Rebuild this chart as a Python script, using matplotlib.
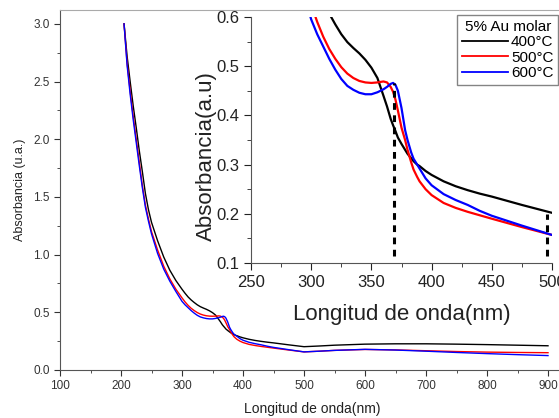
import numpy as np
import matplotlib
matplotlib.use('Agg')
import matplotlib.pyplot as plt
from matplotlib.ticker import MultipleLocator

plt.rcParams['font.family'] = ['Liberation Sans', 'DejaVu Sans']

# Wavelength (nm) and absorbance
wl = [205, 210, 215, 220, 225, 230, 235, 240, 245, 250,
      260, 270, 280, 290, 300,
      305, 310, 315, 320, 325, 330, 335, 340, 345, 350, 355, 360,
      363, 366, 368, 370, 372, 375, 378, 380, 383, 385, 388, 390,
      395, 400,
      410, 420, 430, 440, 450,
      475, 500, 525, 550,
      600, 650, 700, 750, 800, 850, 900]

abs_400 = [3.0, 2.72, 2.5, 2.29, 2.1, 1.9, 1.72, 1.53, 1.39, 1.28,
           1.12, 0.98, 0.865, 0.775, 0.70,
           0.665, 0.633, 0.607, 0.585, 0.565, 0.549, 0.537, 0.526, 0.513, 0.497, 0.476, 0.44,
           0.418, 0.393, 0.38, 0.368, 0.355, 0.342, 0.33, 0.322, 0.313, 0.307, 0.30, 0.297,
           0.287, 0.279,
           0.266, 0.256, 0.248, 0.241, 0.235,
           0.218, 0.202, 0.208, 0.215,
           0.224, 0.227, 0.227, 0.224, 0.22, 0.215, 0.21]

abs_500 = [3.0, 2.66, 2.42, 2.2, 2.0, 1.8, 1.6, 1.43, 1.31, 1.2,
           1.04, 0.9, 0.79, 0.70, 0.625,
           0.59, 0.56, 0.535, 0.515, 0.498, 0.485, 0.476, 0.47, 0.467, 0.466, 0.467, 0.469,
           0.467, 0.458, 0.448, 0.432, 0.41, 0.375, 0.35, 0.33, 0.305, 0.29, 0.275, 0.266,
           0.25, 0.238,
           0.222, 0.212, 0.204, 0.197, 0.19,
           0.173, 0.157, 0.163, 0.17,
           0.178, 0.174, 0.167, 0.16, 0.155, 0.152, 0.15]

abs_600 = [3.0, 2.64, 2.39, 2.17, 1.97, 1.77, 1.58, 1.41, 1.29, 1.18,
           1.01, 0.875, 0.77, 0.68, 0.595,
           0.565, 0.54, 0.515, 0.493, 0.474, 0.46, 0.452, 0.446, 0.443, 0.443, 0.447, 0.453,
           0.458, 0.464, 0.466, 0.462, 0.45, 0.415, 0.37, 0.35, 0.325, 0.312, 0.30, 0.292,
           0.272, 0.258,
           0.24, 0.228, 0.218, 0.206, 0.196,
           0.176, 0.157, 0.163, 0.17,
           0.179, 0.173, 0.163, 0.152, 0.142, 0.133, 0.125]

labels = ['400°C', '500°C', '600°C']
colors = ['black', 'red', 'blue']
series = [abs_400, abs_500, abs_600]

# dashed marker lines in the inset
vline_x = [369, 496]
vline_top = [0.465, 0.2]
vline_bottom = [0.115, 0.115]

fig = plt.figure(figsize=(5.59, 4.18), dpi=100)

# main axes
ax = fig.add_axes([60 / 559, 48 / 418, 505 / 559, 360 / 418])
for y, c in zip(series, colors):
    ax.plot(wl, y, color=c, lw=1.0)
ax.set_xlim(100, 100 + 505 / 0.61)
ax.set_ylim(0, 3.12)
ax.xaxis.set_major_locator(MultipleLocator(100))
ax.xaxis.set_minor_locator(MultipleLocator(50))
ax.yaxis.set_minor_locator(MultipleLocator(0.25))
ax.set_yticks(np.arange(0, 3.01, 0.5))
ax.set_yticklabels(['%.1f' % v for v in np.arange(0, 3.01, 0.5)])
ax.tick_params(which='both', direction='out', labelsize=8.5, colors='#333333', top=False, right=False)
ax.tick_params(which='major', length=4)
ax.tick_params(which='minor', length=2.5)
for s in ax.spines.values():
    s.set_color('#555555')
ax.spines['top'].set_color('#aaaaaa')
ax.set_xlabel('Longitud de onda(nm)', fontsize=10, color='#222222', labelpad=7)
ax.set_ylabel('Absorbancia (u.a.)', fontsize=9, color='#222222', labelpad=5)

# inset axes
ins = fig.add_axes([251 / 559, (418 - 263) / 418, 301 / 559, 246 / 418])
ins.set_facecolor('white')
for y, c, lab in zip(series, colors, labels):
    ins.plot(wl, y, color=c, lw=1.6, label=lab)
for x, y0, y1 in zip(vline_x, vline_bottom, vline_top):
    ins.plot([x, x], [y0, y1], color='black', lw=2.2, ls=(0, (2.2, 1.8)))
ins.set_xlim(250, 500)
ins.set_ylim(0.1, 0.6)
ins.xaxis.set_major_locator(MultipleLocator(50))
ins.xaxis.set_minor_locator(MultipleLocator(25))
ins.yaxis.set_major_locator(MultipleLocator(0.1))
ins.yaxis.set_minor_locator(MultipleLocator(0.05))
ins.tick_params(which='both', direction='out', labelsize=12, colors='#222222')
ins.tick_params(which='major', length=5)
ins.tick_params(which='minor', length=3)
ins.spines['top'].set_visible(False)
ins.spines['right'].set_visible(False)
for s in ['left', 'bottom']:
    ins.spines[s].set_color('#555555')
ins.set_xlabel('Longitud de onda(nm)', fontsize=16, color='#222222', labelpad=10)
ins.set_ylabel('Absorbancia(a.u)', fontsize=16, color='#222222')
ins.yaxis.set_label_coords(-0.113, 0.435)

leg = ins.legend(title='5% Au molar', loc='upper right', bbox_to_anchor=(1.03, 1.02),
                 fontsize=11, title_fontsize=11, frameon=True, fancybox=False,
                 handlelength=3.0, handletextpad=0.2, borderpad=0.3, labelspacing=0.1,
                 borderaxespad=0.2)
leg.get_frame().set_edgecolor('#666666')
leg.get_frame().set_linewidth(1.0)
for line in leg.get_lines():
    line.set_linewidth(1.3)

fig.savefig('out.png', dpi=100)
